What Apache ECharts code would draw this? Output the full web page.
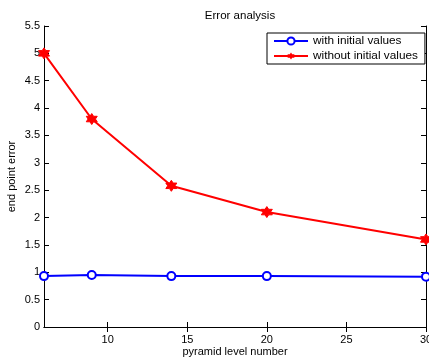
<!DOCTYPE html>
<html>
<head>
<meta charset="utf-8">
<script src="https://cdn.jsdelivr.net/npm/echarts@6/dist/echarts.min.js"></script>
<style>
  html, body { margin: 0; padding: 0; background: #fff; }
  #chart { width: 429px; height: 360px; }
</style>
</head>
<body>
<div id="chart"></div>
<script>
var levels = [6, 9, 14, 20, 30];
var withInit = [0.93, 0.95, 0.93, 0.93, 0.92];
var withoutInit = [5.0, 3.8, 2.58, 2.1, 1.6];
var xTicks = [10, 15, 20, 25, 30];

var star6 = 'path://M0,-10 L2.9,-5 L8.66,-5 L5.8,0 L8.66,5 L2.9,5 L0,10 L-2.9,5 L-8.66,5 L-5.8,0 L-8.66,-5 L-2.9,-5 Z';
var font = 'Liberation Sans';

function pairs(xs, ys) {
    var out = [];
    for (var i = 0; i < xs.length; i++) out.push([xs[i], ys[i]]);
    return out;
}

var lineStyle = { color: '#000', width: 1 };
var tickStyle = { show: true, inside: true, length: 5, lineStyle: lineStyle };

var myChart = echarts.init(document.getElementById('chart'));
myChart.setOption({
    animation: false,
    backgroundColor: '#fff',
    textStyle: { fontFamily: font },
    title: {
        text: 'Error analysis',
        left: 235, top: 5,
        textAlign: 'center',
        textStyle: { fontSize: 11.5, fontWeight: 'normal', color: '#000', fontFamily: font }
    },
    legend: {
        orient: 'vertical',
        left: 267, top: 33,
        backgroundColor: '#fff',
        borderColor: '#000', borderWidth: 1,
        padding: [2, 7, 2, 6],
        itemGap: 3,
        itemWidth: 34, itemHeight: 9,
        textStyle: { fontSize: 11.8, color: '#000', fontFamily: font },
        data: ['with initial values', 'without initial values']
    },
    grid: { left: 44, right: 3, top: 26, bottom: 33, outerBoundsMode: 'none' },
    xAxis: [{
        type: 'value', min: 6, max: 30,
        name: 'pyramid level number', nameLocation: 'middle', nameGap: 19,
        nameMoveOverlap: false,
        nameTextStyle: { fontSize: 11, color: '#000' },
        axisLine: { show: true, lineStyle: lineStyle },
        axisTick: { show: true, inside: true, length: 5, lineStyle: lineStyle, customValues: xTicks },
        splitLine: { show: false },
        axisLabel: { fontSize: 11, color: '#000', margin: 7, customValues: xTicks }
    }, {
        type: 'value', min: 6, max: 30, position: 'top',
        axisLine: { show: true, lineStyle: lineStyle },
        axisTick: { show: true, inside: true, length: 5, lineStyle: lineStyle, customValues: xTicks },
        axisLabel: { show: false },
        splitLine: { show: false }
    }],
    yAxis: [{
        type: 'value', min: 0, max: 5.5, interval: 0.5,
        name: 'end point error', nameLocation: 'middle', nameGap: 32,
        nameMoveOverlap: false,
        nameTextStyle: { fontSize: 11, color: '#000', verticalAlign: 'middle' },
        axisLine: { show: true, lineStyle: lineStyle },
        axisTick: tickStyle,
        splitLine: { show: false },
        axisLabel: { fontSize: 11, color: '#000', margin: 4 }
    }, {
        type: 'value', min: 0, max: 5.5, interval: 0.5, position: 'right',
        axisLine: { show: true, lineStyle: lineStyle },
        axisTick: tickStyle,
        axisLabel: { show: false },
        splitLine: { show: false }
    }],
    series: [{
        name: 'with initial values',
        type: 'line',
        data: pairs(levels, withInit),
        symbol: 'emptyCircle',
        symbolSize: 8,
        lineStyle: { color: '#0000ff', width: 2 },
        itemStyle: { color: '#0000ff', borderColor: '#0000ff', borderWidth: 2 },
        z: 3
    }, {
        name: 'without initial values',
        type: 'line',
        data: pairs(levels, withoutInit),
        symbol: star6,
        symbolSize: 11,
        lineStyle: { color: '#ff0000', width: 2 },
        itemStyle: { color: '#ff0000', borderColor: '#ff0000' },
        z: 3
    }]
});
</script>
</body>
</html>
